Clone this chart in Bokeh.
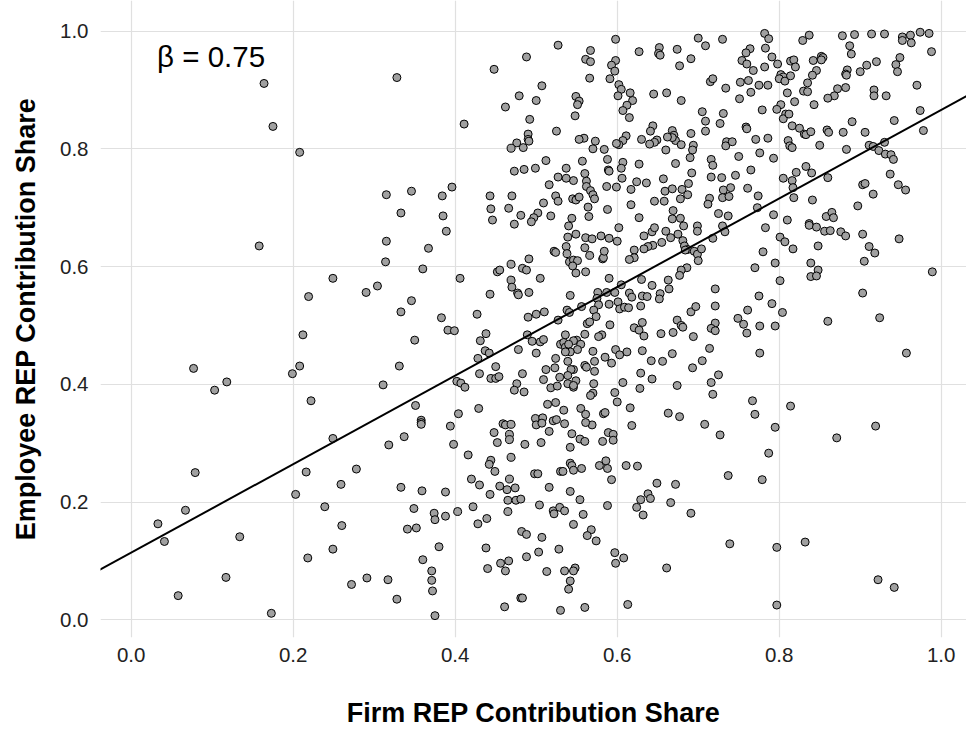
from bokeh.plotting import figure
from bokeh.models import Range1d, Slope, Label, FixedTicker, NumeralTickFormatter, ColumnDataSource
from bokeh.embed import file_html
from bokeh.resources import INLINE

# ---- data: (firm share, employee share), grouped by region ----
pts_left = [
    (0.164, 0.911), (0.175, 0.838), (0.208, 0.794),
    (0.158, 0.635), (0.249, 0.580), (0.219, 0.549), (0.212, 0.484), (0.077, 0.427), (0.208, 0.431),
    (0.199, 0.418), (0.118, 0.404), (0.103, 0.390), (0.222, 0.372),
    (0.249, 0.308), (0.079, 0.250), (0.216, 0.251), (0.203, 0.213), (0.067, 0.186), (0.239, 0.192),
    (0.033, 0.163), (0.041, 0.133), (0.134, 0.141), (0.249, 0.120), (0.218, 0.105), (0.117, 0.072),
    (0.058, 0.041), (0.173, 0.011),
]
pts_mid_top = [
    (0.328, 0.921), (0.448, 0.935), (0.488, 0.956), (0.527, 0.976), (0.507, 0.907), (0.479, 0.890),
    (0.500, 0.882), (0.462, 0.871), (0.492, 0.850), (0.411, 0.842), (0.525, 0.830), (0.490, 0.825),
    (0.490, 0.816), (0.491, 0.813), (0.476, 0.810), (0.469, 0.801), (0.484, 0.802), (0.512, 0.780),
    (0.473, 0.762), (0.485, 0.765), (0.499, 0.767), (0.527, 0.752), (0.516, 0.739), (0.524, 0.720),
    (0.527, 0.711), (0.509, 0.708), (0.315, 0.722), (0.346, 0.728), (0.384, 0.720), (0.396, 0.735),
    (0.333, 0.691), (0.385, 0.686), (0.443, 0.720), (0.470, 0.720), (0.444, 0.698), (0.466, 0.699),
    (0.481, 0.687), (0.502, 0.691), (0.497, 0.683), (0.518, 0.686), (0.446, 0.679), (0.494, 0.676),
    (0.473, 0.672),
]
pts_mid_center = [
    (0.315, 0.643), (0.389, 0.660), (0.367, 0.631), (0.314, 0.608), (0.360, 0.596), (0.406, 0.580),
    (0.469, 0.604), (0.491, 0.613), (0.522, 0.626), (0.524, 0.624), (0.452, 0.591), (0.455, 0.594),
    (0.483, 0.597), (0.488, 0.594), (0.505, 0.580), (0.469, 0.577), (0.470, 0.565), (0.477, 0.555),
    (0.478, 0.552), (0.491, 0.556), (0.443, 0.553), (0.290, 0.556), (0.304, 0.567), (0.346, 0.542),
    (0.333, 0.523), (0.383, 0.513), (0.427, 0.519), (0.490, 0.514), (0.500, 0.519), (0.510, 0.523),
    (0.527, 0.509), (0.391, 0.492), (0.399, 0.491), (0.438, 0.486), (0.431, 0.474), (0.489, 0.484),
    (0.495, 0.473), (0.505, 0.472), (0.509, 0.476), (0.530, 0.468), (0.350, 0.475), (0.437, 0.457),
    (0.442, 0.453), (0.478, 0.459), (0.500, 0.453), (0.428, 0.444), (0.450, 0.430), (0.524, 0.444),
    (0.512, 0.425), (0.523, 0.428), (0.331, 0.431), (0.430, 0.418), (0.444, 0.410), (0.450, 0.410),
    (0.454, 0.413), (0.483, 0.418), (0.509, 0.408), (0.529, 0.412), (0.402, 0.405), (0.407, 0.402),
    (0.412, 0.395), (0.311, 0.399), (0.476, 0.401), (0.473, 0.390), (0.485, 0.387), (0.518, 0.394),
    (0.526, 0.397), (0.514, 0.366), (0.524, 0.369), (0.351, 0.364), (0.429, 0.359), (0.404, 0.350),
    (0.358, 0.339), (0.358, 0.335), (0.358, 0.332), (0.394, 0.329), (0.459, 0.333), (0.462, 0.331),
    (0.469, 0.332), (0.499, 0.342), (0.508, 0.343), (0.500, 0.331), (0.507, 0.334), (0.521, 0.338),
    (0.525, 0.340),
]
pts_mid_low = [
    (0.318, 0.297), (0.337, 0.311), (0.398, 0.298), (0.416, 0.280), (0.278, 0.256), (0.259, 0.230),
    (0.333, 0.225), (0.359, 0.219), (0.388, 0.217), (0.448, 0.318), (0.467, 0.315), (0.467, 0.306),
    (0.452, 0.301), (0.486, 0.298), (0.506, 0.301), (0.516, 0.320), (0.444, 0.271), (0.442, 0.264),
    (0.449, 0.252), (0.469, 0.276), (0.420, 0.239), (0.430, 0.229), (0.455, 0.227), (0.467, 0.239),
    (0.464, 0.221), (0.474, 0.224), (0.443, 0.213), (0.498, 0.248), (0.502, 0.248), (0.516, 0.225),
    (0.530, 0.252), (0.465, 0.203), (0.475, 0.203), (0.481, 0.205), (0.504, 0.195), (0.521, 0.185),
    (0.522, 0.180), (0.529, 0.191), (0.422, 0.192), (0.403, 0.184), (0.349, 0.189), (0.374, 0.181),
    (0.375, 0.170), (0.388, 0.176), (0.465, 0.184), (0.439, 0.172), (0.428, 0.163), (0.341, 0.154),
    (0.352, 0.156), (0.260, 0.160), (0.482, 0.150), (0.488, 0.145), (0.507, 0.140), (0.380, 0.124),
    (0.438, 0.122), (0.528, 0.120), (0.503, 0.115), (0.488, 0.107), (0.360, 0.102), (0.456, 0.096),
    (0.466, 0.100), (0.440, 0.087), (0.462, 0.083), (0.513, 0.082), (0.371, 0.083), (0.371, 0.067),
    (0.372, 0.049), (0.272, 0.060), (0.291, 0.071), (0.317, 0.068), (0.328, 0.035), (0.481, 0.037),
    (0.483, 0.037), (0.461, 0.022), (0.375, 0.007), (0.530, 0.016),
]
pts_right_top = [
    (0.598, 0.986), (0.567, 0.967), (0.561, 0.952), (0.567, 0.948), (0.598, 0.950), (0.593, 0.942),
    (0.597, 0.932), (0.591, 0.919), (0.566, 0.920), (0.627, 0.965), (0.652, 0.972), (0.651, 0.962),
    (0.653, 0.959), (0.674, 0.969), (0.700, 0.988), (0.709, 0.975), (0.730, 0.986), (0.691, 0.953),
    (0.677, 0.941), (0.764, 0.970), (0.759, 0.963), (0.754, 0.950), (0.760, 0.944), (0.768, 0.933),
    (0.775, 0.908), (0.762, 0.916), (0.752, 0.913), (0.765, 0.896), (0.751, 0.885), (0.734, 0.903),
    (0.715, 0.914), (0.718, 0.919), (0.602, 0.909), (0.605, 0.901), (0.601, 0.890), (0.616, 0.895),
    (0.619, 0.882), (0.612, 0.874), (0.607, 0.865), (0.615, 0.853), (0.645, 0.893), (0.661, 0.895),
    (0.679, 0.882), (0.549, 0.889), (0.553, 0.881), (0.551, 0.875), (0.548, 0.856), (0.705, 0.863),
    (0.731, 0.860), (0.709, 0.847), (0.727, 0.843), (0.709, 0.830), (0.759, 0.837), (0.760, 0.834),
    (0.779, 0.866), (0.644, 0.839), (0.641, 0.830), (0.668, 0.831), (0.670, 0.823), (0.672, 0.814),
    (0.668, 0.819), (0.662, 0.820), (0.649, 0.815), (0.646, 0.811), (0.640, 0.808), (0.630, 0.816),
    (0.611, 0.822), (0.607, 0.814), (0.602, 0.807), (0.599, 0.809), (0.691, 0.826), (0.679, 0.807),
    (0.694, 0.806), (0.693, 0.798), (0.660, 0.798), (0.735, 0.812), (0.734, 0.805), (0.742, 0.812),
    (0.771, 0.816), (0.776, 0.793), (0.750, 0.787), (0.716, 0.782), (0.718, 0.772), (0.690, 0.785),
    (0.672, 0.775), (0.692, 0.759), (0.765, 0.764), (0.746, 0.755), (0.729, 0.751), (0.716, 0.752),
    (0.573, 0.813), (0.559, 0.818), (0.553, 0.816), (0.570, 0.800), (0.584, 0.799), (0.588, 0.782),
    (0.557, 0.779), (0.607, 0.777), (0.605, 0.767), (0.589, 0.764), (0.590, 0.762), (0.627, 0.774),
    (0.537, 0.767), (0.560, 0.758), (0.606, 0.750), (0.546, 0.746), (0.537, 0.750), (0.562, 0.745),
    (0.562, 0.736), (0.567, 0.729), (0.570, 0.722), (0.572, 0.715), (0.587, 0.736), (0.599, 0.735),
    (0.617, 0.731), (0.624, 0.744), (0.636, 0.742), (0.657, 0.749), (0.688, 0.741), (0.659, 0.728),
    (0.668, 0.732), (0.680, 0.731), (0.687, 0.722), (0.678, 0.715), (0.646, 0.711), (0.658, 0.711),
    (0.617, 0.705), (0.731, 0.730), (0.740, 0.734), (0.730, 0.717), (0.738, 0.719), (0.761, 0.733),
    (0.774, 0.720), (0.714, 0.716), (0.712, 0.706), (0.545, 0.715), (0.549, 0.713), (0.553, 0.718),
    (0.564, 0.701), (0.588, 0.697), (0.565, 0.685), (0.544, 0.682), (0.627, 0.683), (0.669, 0.695),
    (0.668, 0.681), (0.678, 0.682), (0.725, 0.690), (0.737, 0.686), (0.773, 0.700),
]
pts_right_center = [
    (0.540, 0.669), (0.539, 0.650), (0.549, 0.655), (0.537, 0.634), (0.561, 0.649), (0.569, 0.647),
    (0.580, 0.652), (0.590, 0.648), (0.600, 0.643), (0.602, 0.666), (0.560, 0.632), (0.566, 0.619),
    (0.538, 0.622), (0.541, 0.608), (0.546, 0.611), (0.551, 0.610), (0.545, 0.601), (0.549, 0.589),
    (0.561, 0.591), (0.582, 0.613), (0.583, 0.615), (0.584, 0.626), (0.633, 0.652), (0.643, 0.659),
    (0.646, 0.666), (0.660, 0.660), (0.666, 0.649), (0.675, 0.655), (0.682, 0.669), (0.699, 0.669),
    (0.699, 0.660), (0.655, 0.641), (0.644, 0.636), (0.638, 0.634), (0.633, 0.630), (0.621, 0.628),
    (0.621, 0.615), (0.615, 0.612), (0.681, 0.644), (0.683, 0.635), (0.687, 0.629), (0.684, 0.628),
    (0.695, 0.626), (0.699, 0.621), (0.700, 0.610), (0.704, 0.630), (0.718, 0.648), (0.730, 0.669),
    (0.733, 0.659), (0.686, 0.598), (0.679, 0.594), (0.677, 0.585), (0.663, 0.577), (0.664, 0.562),
    (0.653, 0.554), (0.652, 0.545), (0.643, 0.568), (0.630, 0.578), (0.590, 0.580), (0.605, 0.569),
    (0.597, 0.556), (0.587, 0.556), (0.576, 0.556), (0.542, 0.551), (0.770, 0.598), (0.615, 0.555),
    (0.618, 0.548), (0.631, 0.550), (0.637, 0.549), (0.629, 0.533), (0.575, 0.546), (0.577, 0.535),
    (0.590, 0.536), (0.601, 0.540), (0.603, 0.528), (0.609, 0.531), (0.614, 0.530), (0.571, 0.526),
    (0.574, 0.515), (0.556, 0.532), (0.538, 0.526), (0.541, 0.522), (0.563, 0.503), (0.566, 0.506),
    (0.591, 0.501), (0.581, 0.484), (0.577, 0.481), (0.560, 0.485), (0.550, 0.475), (0.555, 0.468),
    (0.546, 0.474), (0.536, 0.484), (0.534, 0.471), (0.536, 0.463), (0.540, 0.468), (0.551, 0.459),
    (0.542, 0.455), (0.536, 0.455), (0.621, 0.496), (0.627, 0.492), (0.631, 0.505), (0.633, 0.482),
    (0.654, 0.486), (0.669, 0.488), (0.674, 0.509), (0.679, 0.500), (0.681, 0.497), (0.694, 0.481),
    (0.691, 0.523), (0.697, 0.532), (0.721, 0.562), (0.721, 0.533), (0.721, 0.504), (0.716, 0.495),
    (0.721, 0.491), (0.749, 0.512), (0.756, 0.502), (0.761, 0.526), (0.760, 0.487), (0.775, 0.550),
    (0.570, 0.456), (0.598, 0.459), (0.603, 0.450), (0.612, 0.455), (0.631, 0.457), (0.585, 0.446),
    (0.593, 0.436), (0.572, 0.439), (0.560, 0.432), (0.562, 0.429), (0.546, 0.425), (0.543, 0.425),
    (0.572, 0.422), (0.539, 0.439), (0.539, 0.415), (0.549, 0.406), (0.539, 0.401), (0.546, 0.395),
    (0.546, 0.398), (0.571, 0.401), (0.570, 0.385), (0.567, 0.381), (0.555, 0.359), (0.561, 0.349),
    (0.583, 0.350), (0.585, 0.352), (0.597, 0.386), (0.600, 0.370), (0.607, 0.403), (0.616, 0.360),
    (0.629, 0.419), (0.628, 0.393), (0.643, 0.409), (0.642, 0.440), (0.656, 0.439), (0.668, 0.452),
    (0.693, 0.428), (0.705, 0.440), (0.714, 0.461), (0.725, 0.416), (0.716, 0.403), (0.718, 0.383),
    (0.674, 0.398), (0.663, 0.351), (0.677, 0.345), (0.708, 0.332), (0.618, 0.330), (0.569, 0.331),
    (0.561, 0.335), (0.534, 0.356), (0.535, 0.333), (0.767, 0.372), (0.770, 0.349), (0.776, 0.453),
]
pts_right_low = [
    (0.544, 0.316), (0.554, 0.307), (0.560, 0.303), (0.582, 0.303), (0.589, 0.318), (0.595, 0.315),
    (0.595, 0.305), (0.542, 0.293), (0.727, 0.314), (0.542, 0.266), (0.544, 0.262), (0.533, 0.252),
    (0.546, 0.254), (0.556, 0.257), (0.578, 0.262), (0.586, 0.270), (0.588, 0.257), (0.611, 0.262),
    (0.625, 0.261), (0.593, 0.238), (0.649, 0.232), (0.672, 0.230), (0.737, 0.245), (0.542, 0.218),
    (0.554, 0.204), (0.588, 0.194), (0.638, 0.214), (0.629, 0.204), (0.641, 0.206), (0.624, 0.191),
    (0.632, 0.178), (0.666, 0.199), (0.691, 0.181), (0.535, 0.185), (0.558, 0.179), (0.546, 0.162),
    (0.568, 0.153), (0.563, 0.143), (0.574, 0.134), (0.597, 0.114), (0.608, 0.105), (0.598, 0.096),
    (0.661, 0.088), (0.739, 0.129), (0.535, 0.083), (0.548, 0.088), (0.546, 0.083), (0.542, 0.066),
    (0.540, 0.052), (0.560, 0.021), (0.613, 0.026),
]
pts_far_top = [
    (0.782, 0.996), (0.787, 0.987), (0.783, 0.971), (0.791, 0.956), (0.782, 0.939), (0.786, 0.908),
    (0.786, 0.818), (0.793, 0.784), (0.829, 0.984), (0.837, 0.993), (0.814, 0.949), (0.818, 0.951),
    (0.820, 0.939), (0.798, 0.944), (0.802, 0.926), (0.805, 0.922), (0.800, 0.919), (0.807, 0.915),
    (0.814, 0.924), (0.842, 0.950), (0.846, 0.933), (0.841, 0.925), (0.835, 0.912), (0.830, 0.898),
    (0.835, 0.897), (0.810, 0.895), (0.819, 0.880), (0.843, 0.875), (0.802, 0.875), (0.797, 0.867),
    (0.808, 0.859), (0.805, 0.851), (0.812, 0.859), (0.816, 0.839), (0.825, 0.835), (0.831, 0.825),
    (0.833, 0.824), (0.839, 0.829), (0.859, 0.832), (0.861, 0.828), (0.879, 0.828), (0.850, 0.806),
    (0.811, 0.814), (0.813, 0.805), (0.816, 0.802), (0.852, 0.957), (0.854, 0.955), (0.852, 0.951),
    (0.878, 0.992), (0.887, 0.975), (0.889, 0.961), (0.893, 0.994), (0.914, 0.995), (0.930, 0.995),
    (0.952, 0.990), (0.952, 0.984), (0.962, 0.993), (0.963, 0.980), (0.974, 0.998), (0.985, 0.996),
    (0.988, 0.965), (0.949, 0.955), (0.944, 0.943), (0.946, 0.931), (0.920, 0.948), (0.908, 0.942),
    (0.900, 0.931), (0.884, 0.934), (0.882, 0.927), (0.883, 0.925), (0.882, 0.904), (0.872, 0.902),
    (0.868, 0.890), (0.860, 0.886), (0.917, 0.900), (0.917, 0.890), (0.932, 0.890), (0.970, 0.908),
    (0.974, 0.865), (0.978, 0.831), (0.942, 0.848), (0.890, 0.846), (0.906, 0.828), (0.883, 0.799),
    (0.911, 0.806), (0.916, 0.804), (0.923, 0.797), (0.930, 0.811), (0.931, 0.791), (0.938, 0.790),
    (0.941, 0.782), (0.833, 0.770), (0.840, 0.759), (0.821, 0.760), (0.816, 0.746), (0.805, 0.750),
    (0.817, 0.734), (0.818, 0.717), (0.841, 0.713), (0.860, 0.751), (0.903, 0.739), (0.906, 0.741),
    (0.916, 0.723), (0.937, 0.757), (0.947, 0.739), (0.956, 0.730), (0.897, 0.703), (0.793, 0.688),
    (0.810, 0.679), (0.858, 0.685), (0.865, 0.692), (0.867, 0.683), (0.837, 0.673),
]
pts_far_mid = [
    (0.783, 0.666), (0.837, 0.670), (0.846, 0.667), (0.856, 0.660), (0.863, 0.661), (0.876, 0.659),
    (0.882, 0.652), (0.903, 0.655), (0.948, 0.647), (0.848, 0.635), (0.801, 0.650), (0.807, 0.642),
    (0.817, 0.630), (0.780, 0.625), (0.795, 0.606), (0.839, 0.606), (0.848, 0.594), (0.839, 0.583),
    (0.846, 0.584), (0.905, 0.609), (0.911, 0.634), (0.918, 0.623), (0.989, 0.591), (0.801, 0.576),
    (0.791, 0.537), (0.804, 0.522), (0.795, 0.499), (0.776, 0.499), (0.903, 0.555), (0.860, 0.507),
    (0.924, 0.513), (0.957, 0.453), (0.814, 0.363), (0.795, 0.327), (0.919, 0.329),
]
pts_far_low = [
    (0.871, 0.309), (0.787, 0.283), (0.779, 0.238), (0.797, 0.123), (0.832, 0.132), (0.922, 0.068),
    (0.942, 0.055), (0.797, 0.025),
]

# fitted regression line and its label
fit_intercept = 0.114
fit_slope = 0.752
beta_label = "\u03b2 = 0.75"

tick_values = [0.0, 0.2, 0.4, 0.6, 0.8, 1.0]
x_title = "Firm REP Contribution Share"
y_title = "Employee REP Contribution Share"

all_pts = (pts_left + pts_mid_top + pts_mid_center + pts_mid_low + pts_right_top
           + pts_right_center + pts_right_low + pts_far_top + pts_far_mid + pts_far_low)
firm_share = [a for a, b in all_pts]
employee_share = [b for a, b in all_pts]

FONT = "Liberation Sans"

p = figure(width=966, height=730, output_backend="svg", toolbar_location=None,
           x_range=Range1d(-0.0379, 1.0312), y_range=Range1d(-0.0301, 1.0519),
           min_border_left=100, min_border_right=0, min_border_top=0, min_border_bottom=90)
p.outline_line_color = None
p.background_fill_color = "white"

for g in (p.xgrid, p.ygrid):
    g.ticker = FixedTicker(ticks=tick_values)
    g.grid_line_color = "#E0E0E0"
    g.grid_line_width = 1.2

for ax in (p.xaxis, p.yaxis):
    ax.ticker = FixedTicker(ticks=tick_values)
    ax.formatter = NumeralTickFormatter(format="0.0")
    ax.axis_line_color = None
    ax.major_tick_line_color = None
    ax.major_tick_out = 0
    ax.major_tick_in = 0
    ax.minor_tick_line_color = None
    ax.major_label_text_font = FONT
    ax.major_label_text_font_size = "20.5px"
    ax.major_label_text_color = "#222222"
    ax.axis_label_text_font = FONT
    ax.axis_label_text_font_size = "27px"
    ax.axis_label_text_font_style = "bold"
    ax.axis_label_text_color = "black"

p.xaxis.axis_label = x_title
p.yaxis.axis_label = y_title
p.xaxis.major_label_standoff = 10
p.xaxis.axis_label_standoff = 33
p.yaxis.major_label_standoff = 12
p.yaxis.axis_label_standoff = 16

p.add_layout(Slope(gradient=fit_slope, y_intercept=fit_intercept, line_color="black", line_width=2))

src = ColumnDataSource(data=dict(x=firm_share, y=employee_share))
p.scatter("x", "y", source=src, size=8, fill_color="#A0A0A0", line_color="black", line_width=1)

p.add_layout(Label(x=0.032, y=0.956, text=beta_label, text_font=FONT, text_font_size="29.5px",
                   text_color="black", text_baseline="alphabetic"))

open("out.html", "w").write(file_html(p, INLINE))
